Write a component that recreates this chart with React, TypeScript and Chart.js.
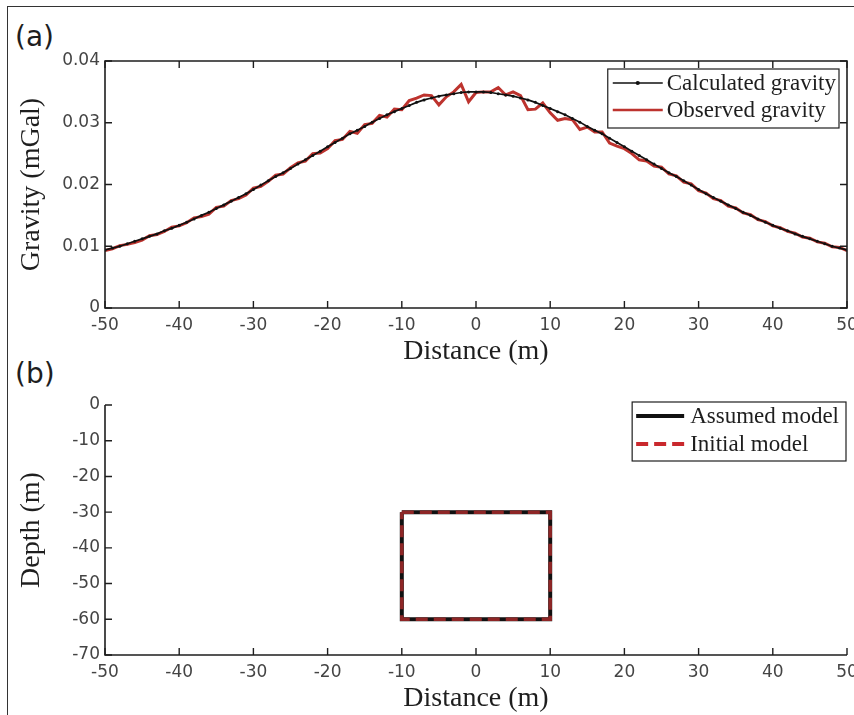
import React, { useEffect, useRef } from "react";
import { Chart, registerables } from "chart.js";

Chart.register(...registerables);

// ---------- data ----------
const distance = [
  -50, -49, -48, -47, -46, -45, -44, -43, -42, -41, -40, -39, -38, -37, -36, -35, -34, -33, -32, -31,
  -30, -29, -28, -27, -26, -25, -24, -23, -22, -21, -20, -19, -18, -17, -16, -15, -14, -13, -12, -11,
  -10, -9, -8, -7, -6, -5, -4, -3, -2, -1, 0, 1, 2, 3, 4, 5, 6, 7, 8, 9,
  10, 11, 12, 13, 14, 15, 16, 17, 18, 19, 20, 21, 22, 23, 24, 25, 26, 27, 28, 29,
  30, 31, 32, 33, 34, 35, 36, 37, 38, 39, 40, 41, 42, 43, 44, 45, 46, 47, 48, 49, 50,
];

const calculatedGravity = [
  0.0094, 0.0097, 0.0100, 0.0104, 0.0108, 0.0112, 0.0116, 0.0120, 0.0125, 0.0129,
  0.0134, 0.0139, 0.0144, 0.0150, 0.0155, 0.0161, 0.0167, 0.0173, 0.0179, 0.0185,
  0.0192, 0.0199, 0.0206, 0.0213, 0.0219, 0.0226, 0.0233, 0.0240, 0.0247, 0.0254,
  0.0261, 0.0268, 0.0275, 0.0282, 0.0288, 0.0294, 0.0301, 0.0307, 0.0313, 0.0318,
  0.0323, 0.0328, 0.0333, 0.0337, 0.0340, 0.0343, 0.0345, 0.0347, 0.0349, 0.0350,
  0.0350,
  0.0350, 0.0349, 0.0347, 0.0345, 0.0343, 0.0340, 0.0337, 0.0333, 0.0328, 0.0323,
  0.0318, 0.0313, 0.0307, 0.0301, 0.0294, 0.0288, 0.0282, 0.0275, 0.0268, 0.0261,
  0.0254, 0.0247, 0.0240, 0.0233, 0.0226, 0.0219, 0.0213, 0.0206, 0.0199, 0.0192,
  0.0185, 0.0179, 0.0173, 0.0167, 0.0161, 0.0155, 0.0150, 0.0144, 0.0139, 0.0134,
  0.0129, 0.0125, 0.0120, 0.0116, 0.0112, 0.0108, 0.0104, 0.0100, 0.0097, 0.0094,
];

const observedGravity = [
  0.0093, 0.0096, 0.0101, 0.0103, 0.0106, 0.0110, 0.0117, 0.0119, 0.0124, 0.0131,
  0.0133, 0.0138, 0.0146, 0.0148, 0.0152, 0.0163, 0.0165, 0.0174, 0.0177, 0.0183,
  0.0194, 0.0197, 0.0205, 0.0215, 0.0217, 0.0227, 0.0235, 0.0238, 0.0250, 0.0251,
  0.0258, 0.0271, 0.0273, 0.0286, 0.0283, 0.0297, 0.0299, 0.0312, 0.0309, 0.0322,
  0.0321, 0.0336, 0.0340, 0.0345, 0.0344, 0.0329, 0.0342, 0.0350, 0.0362, 0.0334,
  0.0349,
  0.0350, 0.0350, 0.0357, 0.0345, 0.0350, 0.0344, 0.0321, 0.0322, 0.0332, 0.0316,
  0.0304, 0.0307, 0.0305, 0.0289, 0.0293, 0.0285, 0.0285, 0.0267, 0.0262, 0.0258,
  0.0250, 0.0240, 0.0238, 0.0230, 0.0228, 0.0217, 0.0214, 0.0204, 0.0201, 0.0190,
  0.0186, 0.0177, 0.0174, 0.0165, 0.0162, 0.0154, 0.0151, 0.0143, 0.0140, 0.0133,
  0.0130, 0.0124, 0.0121, 0.0115, 0.0113, 0.0107, 0.0105, 0.0099, 0.0098, 0.0093,
];

const assumedModelX = [-10, 10, 10, -10, -10];
const assumedModelDepth = [-30, -30, -60, -60, -30];
const initialModelX = [-10, 10, 10, -10, -10];
const initialModelDepth = [-30, -30, -60, -60, -30];

const distanceTicks = [-50, -40, -30, -20, -10, 0, 10, 20, 30, 40, 50];
const gravityTicks = [0, 0.01, 0.02, 0.03, 0.04];
const depthTicks = [0, -10, -20, -30, -40, -50, -60, -70];

// ---------- styles ----------
const tickFont = { family: "'DejaVu Sans'", size: 17 };
const tickColor = "#444444";
const titleFont = { family: "'Liberation Serif'", size: 28 };
const titleColor = "#1e1e1e";
const axisColor = "#1e1e1e";

// ---------- plugins ----------
const framePlugin = {
  id: "frame",
  afterDatasetsDraw(chart: any, _args: any, opts: any) {
    const { ctx, chartArea: a, scales } = chart;
    const xs = scales.x;
    const ys = scales.y;
    const L = 7;
    ctx.save();
    ctx.strokeStyle = axisColor;
    ctx.lineWidth = 1.4;
    ctx.beginPath();
    for (const t of xs.ticks) {
      const px = xs.getPixelForValue(t.value);
      ctx.moveTo(px, a.bottom);
      ctx.lineTo(px, a.bottom - L);
      if (opts.box) {
        ctx.moveTo(px, a.top);
        ctx.lineTo(px, a.top + L);
      }
    }
    for (const t of ys.ticks) {
      const py = ys.getPixelForValue(t.value);
      ctx.moveTo(a.left, py);
      ctx.lineTo(a.left + L, py);
      if (opts.box) {
        ctx.moveTo(a.right, py);
        ctx.lineTo(a.right - L, py);
      }
    }
    ctx.stroke();
    ctx.lineWidth = 1.6;
    ctx.beginPath();
    if (opts.box) {
      ctx.rect(a.left, a.top, a.right - a.left, a.bottom - a.top);
    } else {
      ctx.moveTo(a.left, a.top);
      ctx.lineTo(a.left, a.bottom);
      ctx.lineTo(a.right, a.bottom);
    }
    ctx.stroke();
    ctx.restore();
  },
};

const boxLegendPlugin = {
  id: "boxLegend",
  afterDraw(chart: any, _args: any, opts: any) {
    if (!opts || !opts.show) return;
    const { ctx, chartArea: a } = chart;
    const items = chart.data.datasets;
    ctx.save();
    ctx.font = `${opts.fontSize}px ${opts.fontFamily}`;
    const textW = Math.max(...items.map((d: any) => ctx.measureText(d.label).width));
    const w = opts.padLeft + opts.lineLen + opts.gap + textW + opts.padRight;
    const h = opts.height;
    const x0 = a.right - opts.right - w;
    const y0 = a.top + opts.top;
    ctx.fillStyle = "#ffffff";
    ctx.fillRect(x0, y0, w, h);
    ctx.strokeStyle = axisColor;
    ctx.lineWidth = 1.2;
    ctx.strokeRect(x0, y0, w, h);
    items.forEach((d: any, i: number) => {
      const cy = y0 + opts.firstRow + i * opts.rowGap;
      const lx0 = x0 + opts.padLeft;
      const lx1 = lx0 + opts.lineLen;
      ctx.save();
      ctx.strokeStyle = d.legendColor || d.borderColor;
      ctx.lineWidth = d.legendLineWidth || d.borderWidth;
      ctx.setLineDash(d.borderDash || []);
      ctx.beginPath();
      ctx.moveTo(lx0, cy);
      ctx.lineTo(lx1, cy);
      ctx.stroke();
      ctx.restore();
      if (d.pointRadius && d.pointRadius > 0) {
        ctx.fillStyle = d.pointBackgroundColor || d.borderColor;
        ctx.beginPath();
        ctx.arc((lx0 + lx1) / 2, cy, d.pointRadius + 0.6, 0, Math.PI * 2);
        ctx.fill();
      }
      ctx.fillStyle = "#1e1e1e";
      ctx.textBaseline = "middle";
      ctx.textAlign = "left";
      ctx.fillText(d.label, lx1 + opts.gap, cy + 1);
    });
    ctx.restore();
  },
};

function xScale() {
  return {
    type: "linear",
    min: -50,
    max: 50,
    afterBuildTicks: (s: any) => {
      s.ticks = distanceTicks.map((v) => ({ value: v }));
    },
    afterFit: (s: any) => {
      s.height = 60;
      s.paddingLeft = 0;
      s.paddingRight = 0;
    },
    grid: { display: false, drawTicks: false },
    border: { display: false },
    ticks: {
      font: tickFont,
      color: tickColor,
      padding: 7,
      maxRotation: 0,
      autoSkip: false,
      callback: (v: any) => String(v),
    },
    title: {
      display: true,
      text: "Distance (m)",
      font: titleFont,
      color: titleColor,
      padding: { top: 0, bottom: 0 },
    },
  };
}

function yScale(min: number, max: number, tickValues: number[], label: string, fmt: (v: number) => string) {
  return {
    type: "linear",
    min,
    max,
    afterBuildTicks: (s: any) => {
      s.ticks = tickValues.map((v) => ({ value: v }));
    },
    afterFit: (s: any) => {
      s.width = 105;
      s.paddingTop = 0;
      s.paddingBottom = 0;
    },
    grid: { display: false, drawTicks: false },
    border: { display: false },
    ticks: {
      font: tickFont,
      color: tickColor,
      padding: 5,
      autoSkip: false,
      callback: (v: any) => fmt(Number(v)),
    },
    title: {
      display: true,
      text: label,
      font: titleFont,
      color: titleColor,
      padding: { top: 15, bottom: 0 },
    },
  };
}

function gravityConfig(): any {
  return {
    type: "line",
    data: {
      datasets: [
        {
          label: "Calculated gravity",
          data: distance.map((x, i) => ({ x, y: calculatedGravity[i] })),
          borderColor: "#111111",
          backgroundColor: "#111111",
          pointBackgroundColor: "#111111",
          pointBorderWidth: 0,
          borderWidth: 1.7,
          pointRadius: 1.5,
          tension: 0,
        },
        {
          label: "Observed gravity",
          data: distance.map((x, i) => ({ x, y: observedGravity[i] })),
          borderColor: "#bd332e",
          backgroundColor: "#bd332e",
          borderWidth: 3,
          legendLineWidth: 2.4,
          pointRadius: 0,
          tension: 0,
        },
      ],
    },
    options: {
      responsive: false,
      animation: false,
      events: [],
      layout: { padding: { left: 0, top: 61, right: 7, bottom: 347 } },
      scales: {
        x: xScale(),
        y: yScale(0, 0.04, gravityTicks, "Gravity (mGal)", (v) => (v === 0 ? "0" : v.toFixed(2))),
      },
      plugins: {
        legend: { display: false },
        tooltip: { enabled: false },
        frame: { box: true },
        boxLegend: {
          show: true,
          fontSize: 23,
          fontFamily: "'Liberation Serif'",
          padLeft: 5,
          lineLen: 50,
          gap: 4,
          padRight: 3,
          height: 59,
          right: 8,
          top: 8,
          firstRow: 14,
          rowGap: 27,
        },
      },
    },
    plugins: [framePlugin, boxLegendPlugin],
  };
}

function modelConfig(): any {
  return {
    type: "line",
    data: {
      datasets: [
        {
          label: "Assumed model",
          data: assumedModelX.map((x, i) => ({ x, y: assumedModelDepth[i] })),
          borderColor: "#111111",
          borderWidth: 4,
          legendLineWidth: 4,
          pointRadius: 0,
          tension: 0,
          order: 1,
        },
        {
          label: "Initial model",
          data: initialModelX.map((x, i) => ({ x, y: initialModelDepth[i] })),
          borderColor: "#8e2626",
          legendColor: "#c9282d",
          borderWidth: 3.5,
          legendLineWidth: 4,
          borderDash: [12, 6],
          pointRadius: 0,
          tension: 0,
          order: 0,
        },
      ],
    },
    options: {
      responsive: false,
      animation: false,
      events: [],
      layout: { padding: { left: 0, top: 405, right: 7, bottom: 0 } },
      scales: {
        x: xScale(),
        y: yScale(-70, 0, depthTicks, "Depth (m)", (v) => String(v)),
      },
      plugins: {
        legend: { display: false },
        tooltip: { enabled: false },
        frame: { box: false },
        boxLegend: {
          show: true,
          fontSize: 23,
          fontFamily: "'Liberation Serif'",
          padLeft: 4,
          lineLen: 48,
          gap: 6,
          padRight: 7,
          height: 59,
          right: 1,
          top: -3,
          firstRow: 14,
          rowGap: 28,
        },
      },
    },
    plugins: [framePlugin, boxLegendPlugin],
  };
}

export default function App() {
  const topRef = useRef<HTMLCanvasElement>(null);
  const bottomRef = useRef<HTMLCanvasElement>(null);

  useEffect(() => {
    const c1 = new Chart(topRef.current as HTMLCanvasElement, gravityConfig());
    const c2 = new Chart(bottomRef.current as HTMLCanvasElement, modelConfig());
    return () => {
      c1.destroy();
      c2.destroy();
    };
  }, []);

  const canvasStyle: React.CSSProperties = {
    position: "absolute",
    left: 0,
    top: 0,
    width: 854,
    height: 715,
  };
  const panelLabel: React.CSSProperties = {
    position: "absolute",
    left: 15,
    fontFamily: "'DejaVu Sans'",
    fontSize: 28,
    lineHeight: "28px",
    color: "#1e1e1e",
    whiteSpace: "nowrap",
  };

  return (
    <div
      style={{
        position: "absolute",
        left: 0,
        top: 0,
        width: 854,
        height: 715,
        background: "#ffffff",
        overflow: "hidden",
      }}
    >
      <div
        style={{
          position: "absolute",
          left: 7,
          top: 6,
          width: 900,
          height: 800,
          borderLeft: "1px solid #333",
          borderTop: "1px solid #333",
        }}
      />
      <div style={{ ...panelLabel, top: 23 }}>(a)</div>
      <div style={{ ...panelLabel, top: 360 }}>(b)</div>
      <canvas ref={bottomRef} width={854} height={715} style={canvasStyle} />
      <canvas ref={topRef} width={854} height={715} style={canvasStyle} />
    </div>
  );
}
